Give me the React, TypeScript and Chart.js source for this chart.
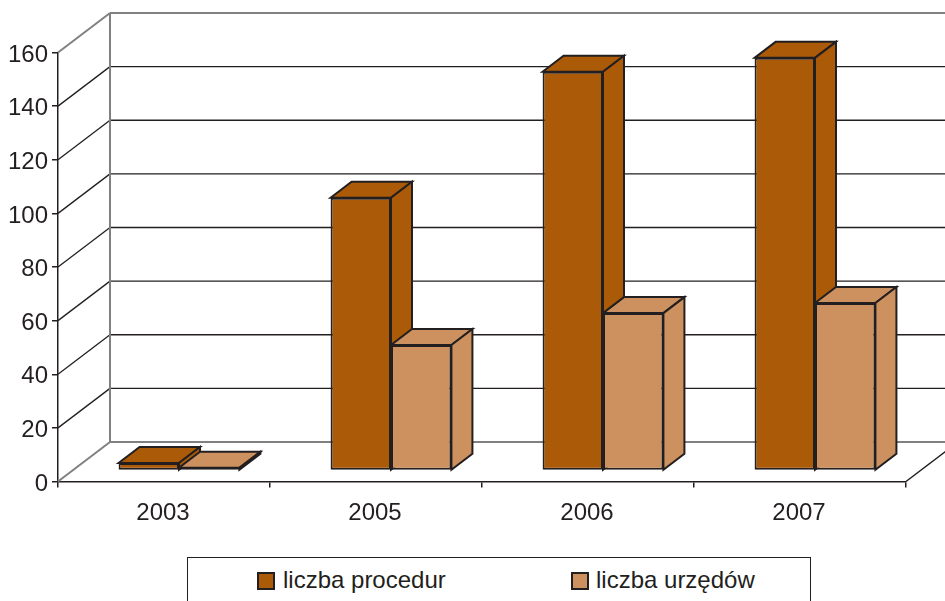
import React, { useEffect, useRef } from "react";
import { Chart, registerables } from "chart.js";

Chart.register(...registerables);

const categories = ["2003", "2005", "2006", "2007"];
const procedures = [2.8, 101.7, 148.7, 153.9];
const offices = [1, 46.8, 58.7, 62.5];
const seriesLabels = ["liczba procedur", "liczba urzędów"];
const seriesColors = ["#AB5A08", "#CD915F"];

const INK = "#231f20";
const WALL = "#808080";
const FONT = "'Liberation Sans', Arial, sans-serif";
const WALL_DX = 52;
const WALL_DY = 39.5;
const BAR_SHIFT_X = 15;
const BAR_SHIFT_Y = 11;
const BAR_DX = 21;
const BAR_DY = 16;

function line(ctx: CanvasRenderingContext2D, x1: number, y1: number, x2: number, y2: number) {
  ctx.beginPath();
  ctx.moveTo(x1, y1);
  ctx.lineTo(x2, y2);
  ctx.stroke();
}

function poly(ctx: CanvasRenderingContext2D, pts: number[][]) {
  ctx.beginPath();
  pts.forEach((p, i) => (i ? ctx.lineTo(p[0], p[1]) : ctx.moveTo(p[0], p[1])));
  ctx.closePath();
  ctx.fill();
  ctx.stroke();
}

const threeD = {
  id: "threeD",
  beforeDatasetsDraw(chart: any) {
    const { ctx, chartArea, scales } = chart;
    const { left, right, bottom } = chartArea;
    const y = scales.y;
    ctx.save();
    // grid lines on the back wall and side wall
    ctx.strokeStyle = INK;
    ctx.lineWidth = 1.3;
    y.ticks.forEach((t: any) => {
      if (t.value === 0 || t.value === y.max) return;
      const py = y.getPixelForValue(t.value);
      line(ctx, left, py, left + WALL_DX, py - WALL_DY);
      line(ctx, left + WALL_DX, py - WALL_DY, right + WALL_DX, py - WALL_DY);
    });
    // wall edges
    ctx.strokeStyle = WALL;
    ctx.lineWidth = 2;
    const top = y.getPixelForValue(y.max);
    line(ctx, left, top, left + WALL_DX, top - WALL_DY);
    line(ctx, left + WALL_DX, top - WALL_DY, right + WALL_DX, top - WALL_DY);
    line(ctx, left + WALL_DX, top - WALL_DY, left + WALL_DX, bottom - WALL_DY);
    line(ctx, left + WALL_DX, bottom - WALL_DY, right + WALL_DX, bottom - WALL_DY);
    line(ctx, left, bottom, left + WALL_DX, bottom - WALL_DY);
    ctx.strokeStyle = INK;
    ctx.lineWidth = 1.5;
    line(ctx, right, bottom, right + WALL_DX, bottom - WALL_DY);
    ctx.restore();

    // bars stand in the middle of the floor: shift them, and draw their top and side faces
    ctx.save();
    ctx.translate(BAR_SHIFT_X, -BAR_SHIFT_Y);
    ctx.lineWidth = 2;
    ctx.lineJoin = "miter";
    ctx.strokeStyle = INK;
    chart.data.datasets.forEach((ds: any, i: number) => {
      ctx.fillStyle = ds.backgroundColor;
      chart.getDatasetMeta(i).data.forEach((bar: any) => {
        const { x, y: yTop, base, width } = bar.getProps(["x", "y", "base", "width"], true);
        const l = x - width / 2;
        const r = x + width / 2;
        poly(ctx, [[l, yTop], [l + BAR_DX, yTop - BAR_DY], [r + BAR_DX, yTop - BAR_DY], [r, yTop]]);
        poly(ctx, [[r, yTop], [r + BAR_DX, yTop - BAR_DY], [r + BAR_DX, base - BAR_DY], [r, base]]);
      });
    });
  },
  afterDatasetsDraw(chart: any) {
    chart.ctx.restore();
  },
};

export default function App() {
  const ref = useRef<HTMLCanvasElement>(null);
  useEffect(() => {
    const chart = new Chart(ref.current as HTMLCanvasElement, {
      type: "bar",
      data: {
        labels: categories,
        datasets: [
          { label: seriesLabels[0], data: procedures, backgroundColor: seriesColors[0], borderColor: INK, borderWidth: 2, borderSkipped: false, clip: false },
          { label: seriesLabels[1], data: offices, backgroundColor: seriesColors[1], borderColor: INK, borderWidth: 2, borderSkipped: false, clip: false },
        ],
      } as any,
      options: {
        animation: false,
        responsive: false,
        categoryPercentage: 0.57,
        barPercentage: 1,
        layout: { padding: { top: 52.5, right: 39, left: 0, bottom: 0 } },
        plugins: { legend: { display: false }, title: { display: false }, tooltip: { enabled: false } },
        scales: {
          x: {
            grid: { drawOnChartArea: false, tickLength: 6, color: INK, lineWidth: 1.5 },
            border: { color: INK, width: 1.5 },
            ticks: { color: INK, font: { family: FONT, size: 24 }, padding: 11, maxRotation: 0, labelOffset: -1 },
            afterFit: (s: any) => { s.height = 119.5; },
          },
          y: {
            min: 0,
            max: 160,
            grid: { drawOnChartArea: false, tickLength: 6, color: INK, lineWidth: 1.5 },
            border: { color: INK, width: 1.5 },
            ticks: { stepSize: 20, color: INK, font: { family: FONT, size: 24 }, padding: 4, labelOffset: 2.5 },
            afterFit: (s: any) => { s.width = 58; },
          },
        },
      } as any,
      plugins: [threeD],
    });
    return () => chart.destroy();
  }, []);

  const swatch = (left: number, color: string): React.CSSProperties => ({
    position: "absolute",
    left,
    top: 14,
    width: 14,
    height: 14,
    background: color,
    border: `2px solid ${INK}`,
  });
  const text = (left: number): React.CSSProperties => ({
    position: "absolute",
    left,
    top: 8,
    font: `24px ${FONT}`,
    lineHeight: "28px",
    color: INK,
    whiteSpace: "nowrap",
  });

  return (
    <div style={{ position: "absolute", left: 0, top: 0, width: 945, height: 601, overflow: "hidden", background: "#fff" }}>
      <canvas ref={ref} width={945} height={601} style={{ display: "block" }} />
      <div style={{ position: "absolute", left: 187, top: 557, width: 624, height: 80, border: `1.5px solid ${INK}`, boxSizing: "border-box", background: "#fff" }}>
        <div style={swatch(69, seriesColors[0])} />
        <div style={text(95)}>{seriesLabels[0]}</div>
        <div style={swatch(383, seriesColors[1])} />
        <div style={text(408)}>{seriesLabels[1]}</div>
      </div>
    </div>
  );
}
